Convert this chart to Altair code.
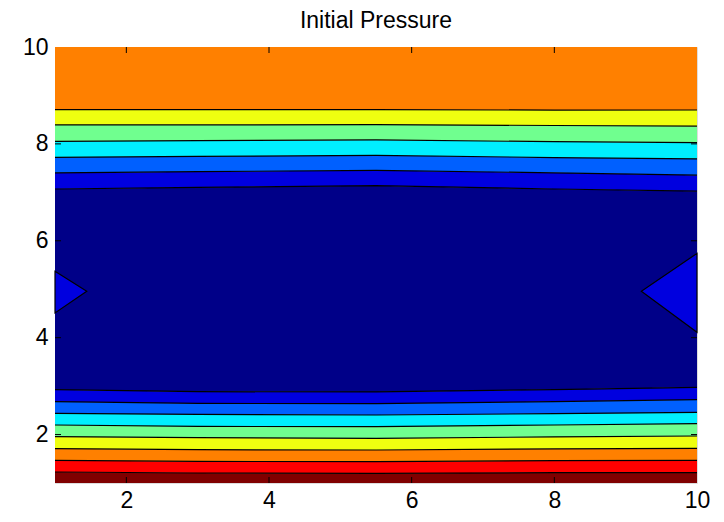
import altair as alt
import pandas as pd

# x positions where the contour lines were read
xs = [1, 3, 5.5, 8, 10]

# contour lines, bottom to top (values of y at each x in xs)
line_01 = [1.227, 1.206, 1.198, 1.215, 1.213]
line_02 = [1.467, 1.446, 1.440, 1.460, 1.467]
line_03 = [1.708, 1.687, 1.681, 1.706, 1.714]
line_04 = [1.956, 1.935, 1.921, 1.952, 1.970]
line_05 = [2.197, 2.168, 2.162, 2.197, 2.224]
line_06 = [2.437, 2.416, 2.404, 2.431, 2.457]
line_07 = [2.678, 2.643, 2.637, 2.680, 2.720]
line_08 = [2.926, 2.885, 2.879, 2.928, 2.974]
line_09 = [7.069, 7.102, 7.137, 7.069, 7.024]
line_10 = [7.400, 7.427, 7.453, 7.402, 7.354]
line_11 = [7.722, 7.742, 7.763, 7.718, 7.689]
line_12 = [8.052, 8.066, 8.081, 8.046, 8.025]
line_13 = [8.391, 8.393, 8.397, 8.380, 8.366]
line_14 = [8.706, 8.706, 8.706, 8.698, 8.700]

y_min, y_max = 1, 10
x_min, x_max = 1, 10

# band names from bottom to top (contour level of each filled band)
band_names = ["L9", "L8", "L7", "L6", "L5", "L4", "L3", "L2", "L1",
              "L2", "L3", "L4", "L5", "L6", "L7"]

# small triangles at left and right edges
tri_left_y = [4.51, 4.96, 5.37]
tri_left_x = [1.0, 1.445, 1.0]
tri_right_y = [4.11, 4.96, 5.74]
tri_right_x = [10.0, 9.22, 10.0]

tick_vals = [2, 4, 6, 8]
label_vals = [2, 4, 6, 8, 10]

title_text = "Initial Pressure"

# ---- build tables ----
lines = [line_01, line_02, line_03, line_04, line_05, line_06, line_07,
         line_08, line_09, line_10, line_11, line_12, line_13, line_14]
bounds = [[y_min] * len(xs)] + lines + [[y_max] * len(xs)]

band_rows = []
for i in range(len(bounds) - 1):
    for j, x in enumerate(xs):
        band_rows.append({"band": f"b{i:02d}", "x": x,
                          "y": bounds[i][j], "y2": bounds[i + 1][j]})
bands_df = pd.DataFrame(band_rows)

line_rows = []
for k, ln in enumerate(lines):
    for j, x in enumerate(xs):
        line_rows.append({"line": f"c{k:02d}", "x": x, "y": ln[j]})
lines_df = pd.DataFrame(line_rows)

level_colors = {
    "L1": "#000088", "L2": "#0000DF", "L3": "#0060FF", "L4": "#00EFFF",
    "L5": "#70FF8F", "L6": "#EFFF10", "L7": "#FF8000", "L8": "#FF0000",
    "L9": "#800000",
}
band_domain = [f"b{i:02d}" for i in range(len(band_names))]
band_range = [level_colors[n] for n in band_names]

tri_l = pd.DataFrame({"y": tri_left_y, "x": tri_left_x, "x2": [x_min] * 3})
tri_r = pd.DataFrame({"y": tri_right_y, "x": tri_right_x, "x2": [x_max] * 3})
ticks_df = pd.DataFrame({"t": tick_vals})

W, H = 642, 436
FONT = "Liberation Sans"

xscale = alt.Scale(domain=[x_min, x_max], nice=False, zero=False)
yscale = alt.Scale(domain=[y_min, y_max], nice=False, zero=False)

xaxis = alt.Axis(values=label_vals, format="d", ticks=False, domain=False, grid=False,
                 labelFontSize=23, labelFont=FONT, labelColor="black",
                 labelPadding=6, title=None, labelFlush=False)
yaxis = alt.Axis(values=label_vals, format="d", ticks=False, domain=False, grid=False,
                 labelFontSize=23, labelFont=FONT, labelColor="black",
                 labelPadding=7, title=None, labelFlush=False)

areas = alt.Chart(bands_df).mark_area(interpolate="linear", opacity=1).encode(
    x=alt.X("x:Q", scale=xscale, axis=xaxis),
    y=alt.Y("y:Q", scale=yscale, axis=yaxis),
    y2="y2:Q",
    color=alt.Color("band:N", scale=alt.Scale(domain=band_domain, range=band_range),
                    legend=None),
)

contours = alt.Chart(lines_df).mark_line(color="black", strokeWidth=1.2).encode(
    x=alt.X("x:Q", scale=xscale),
    y=alt.Y("y:Q", scale=yscale),
    detail="line:N",
)

tri_left = alt.Chart(tri_l).mark_area(
    orient="horizontal", color="#0000DF", stroke="black", strokeWidth=1.2
).encode(
    x=alt.X("x:Q", scale=xscale), x2="x2:Q",
    y=alt.Y("y:Q", scale=yscale),
)
tri_right = alt.Chart(tri_r).mark_area(
    orient="horizontal", color="#0000DF", stroke="black", strokeWidth=1.2
).encode(
    x=alt.X("x:Q", scale=xscale), x2="x2:Q",
    y=alt.Y("y:Q", scale=yscale),
)

tick_bottom = alt.Chart(ticks_df).mark_rule(color="black").encode(
    x=alt.X("t:Q", scale=xscale), y=alt.value(H), y2=alt.value(H - 6))
tick_top = alt.Chart(ticks_df).mark_rule(color="black").encode(
    x=alt.X("t:Q", scale=xscale), y=alt.value(0), y2=alt.value(6))
tick_left = alt.Chart(ticks_df).mark_rule(color="black").encode(
    y=alt.Y("t:Q", scale=yscale), x=alt.value(0), x2=alt.value(6))
tick_right = alt.Chart(ticks_df).mark_rule(color="black").encode(
    y=alt.Y("t:Q", scale=yscale), x=alt.value(W), x2=alt.value(W - 6))

chart = alt.layer(
    areas, contours, tri_left, tri_right,
    tick_bottom, tick_top, tick_left, tick_right,
).properties(
    width=W, height=H,
    title=alt.TitleParams(title_text, fontSize=23, font=FONT, fontWeight="normal",
                          color="black", offset=3, anchor="middle"),
    autosize=alt.AutoSizeParams(type="none"),
    padding={"left": 47, "top": 39, "right": 19, "bottom": 31},
).configure_view(
    stroke="black", strokeWidth=1.5
).configure(background="white")

chart.save("out.html", embed_options={"renderer": "svg", "actions": False})
